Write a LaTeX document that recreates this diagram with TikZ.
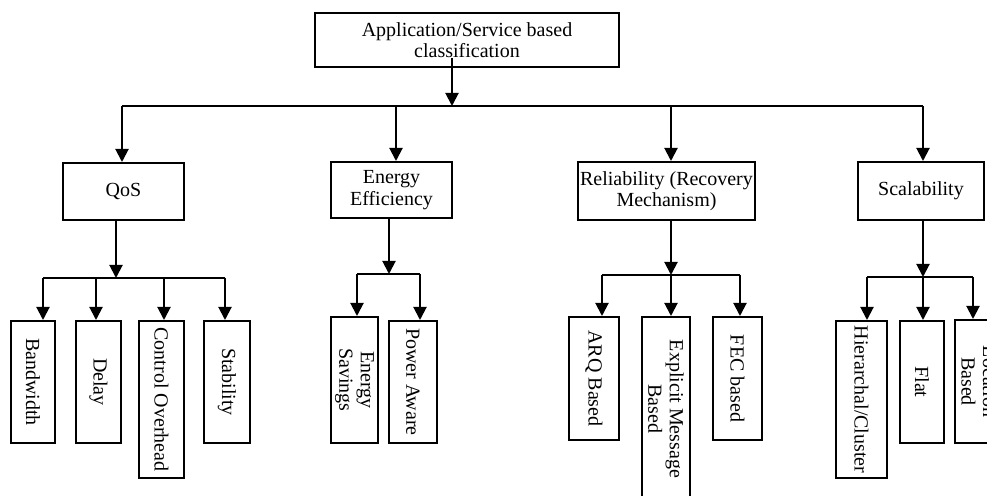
\documentclass[tikz,border=0pt]{standalone}
\usepackage{fontspec}
\setmainfont{Liberation Serif}
\usetikzlibrary{arrows.meta}

\begin{document}
\begin{tikzpicture}[x=0.5pt,y=-0.5pt,
  font=\fontsize{10}{10.75}\selectfont,
  box/.style={draw,line width=1pt,inner sep=0pt,align=center},
  vbox/.style={box,rotate=-90},
  link/.style={line width=1pt},
  arr/.style={link,-{Triangle[width=6.5pt,length=6.5pt]}}]
\useasboundingbox (0,0) rectangle (987,496);
\clip (0,0) rectangle (987,496);

% root
\node[box,minimum width=152pt,minimum height=27pt] (root) at (467,40) {Application/Service based\\classification};

% classes
\node[box,minimum width=60.5pt,minimum height=28.5pt] (qos) at (123.5,191.5) {QoS};
\node[box,minimum width=60.5pt,minimum height=28pt] (energy) at (391.5,190) {Energy\\Efficiency};
\node[box,minimum width=88.5pt,minimum height=29pt] (rel) at (666.5,191) {Reliability (Recovery\\Mechanism)};
\node[box,minimum width=63pt,minimum height=29pt] (scal) at (921,191) {Scalability};

% leaves
\node[vbox,minimum width=61pt,minimum height=22pt] (bw) at (33,382) {Bandwidth};
\node[vbox,minimum width=61pt,minimum height=22.5pt] (delay) at (98.5,382) {Delay};
\node[vbox,minimum width=78.5pt,minimum height=22.5pt] (ctrl) at (161.5,399.5) {Control Overhead};
\node[vbox,minimum width=61pt,minimum height=23pt] (stab) at (227,382) {Stability};
\node[vbox,minimum width=63pt,minimum height=23.5pt] (esave) at (354.5,380) {Energy\\Savings};
\node[vbox,minimum width=61pt,minimum height=24pt] (paware) at (413,382) {Power Aware};
\node[vbox,minimum width=61.5pt,minimum height=25pt] (arq) at (594,378.5) {ARQ Based};
\node[vbox,minimum width=92pt,minimum height=24pt] (expl) at (666,409) {Explicit Message\\Based};
\node[vbox,minimum width=61.5pt,minimum height=24.5pt] (fec) at (737.5,378.5) {FEC based};
\node[vbox,minimum width=78.5pt,minimum height=25.5pt] (hier) at (861.5,399.5) {Hierarchal/Cluster};
\node[vbox,minimum width=61pt,minimum height=22pt] (flat) at (922,382) {Flat};
\node[vbox,minimum width=61.5pt,minimum height=24pt] (loc) at (979,381.5) {Location\\Based};

% first level links
\coordinate (top) at (452,106);
\coordinate (c1) at (122,106);
\coordinate (c2) at (396,106);
\coordinate (c3) at (671,106);
\coordinate (c4) at (923,106);
\draw[arr] ([yshift=5pt]top |- root.south) -- (top);
\draw[link] (c1) -- (c4);
\foreach \c/\n in {c1/qos,c2/energy,c3/rel,c4/scal}
  \draw[arr] (\c) -- (\c |- \n.north);

% QoS
\coordinate (q) at (116,278);
\coordinate (q1) at (43,278);
\coordinate (q2) at (96,278);
\coordinate (q3) at (164,278);
\coordinate (q4) at (225,278);
\draw[arr] (q |- qos.south) -- (q);
\draw[link] (q1) -- (q4);
\foreach \c/\n in {q1/bw,q2/delay,q3/ctrl,q4/stab}
  \draw[arr] (\c) -- (\c |- \n.west);

% energy
\coordinate (e) at (389,274);
\coordinate (e1) at (357,274);
\coordinate (e2) at (420,274);
\draw[arr] (e |- energy.south) -- (e);
\draw[link] (e1) -- (e2);
\foreach \c/\n in {e1/esave,e2/paware}
  \draw[arr] (\c) -- (\c |- \n.west);

% reliability
\coordinate (r) at (671,275);
\coordinate (r1) at (602,275);
\coordinate (r2) at (671,275);
\coordinate (r3) at (740,275);
\draw[arr] (r |- rel.south) -- (r);
\draw[link] (r1) -- (r3);
\foreach \c/\n in {r1/arq,r2/expl,r3/fec}
  \draw[arr] (\c) -- (\c |- \n.west);

% scalability
\coordinate (s) at (923,277);
\coordinate (s1) at (867,277);
\coordinate (s2) at (923,277);
\coordinate (s3) at (973,277);
\draw[arr] (s |- scal.south) -- (s);
\draw[link] (s1) -- (s3);
\foreach \c/\n in {s1/hier,s2/flat,s3/loc}
  \draw[arr] (\c) -- (\c |- \n.west);
\end{tikzpicture}
\end{document}
